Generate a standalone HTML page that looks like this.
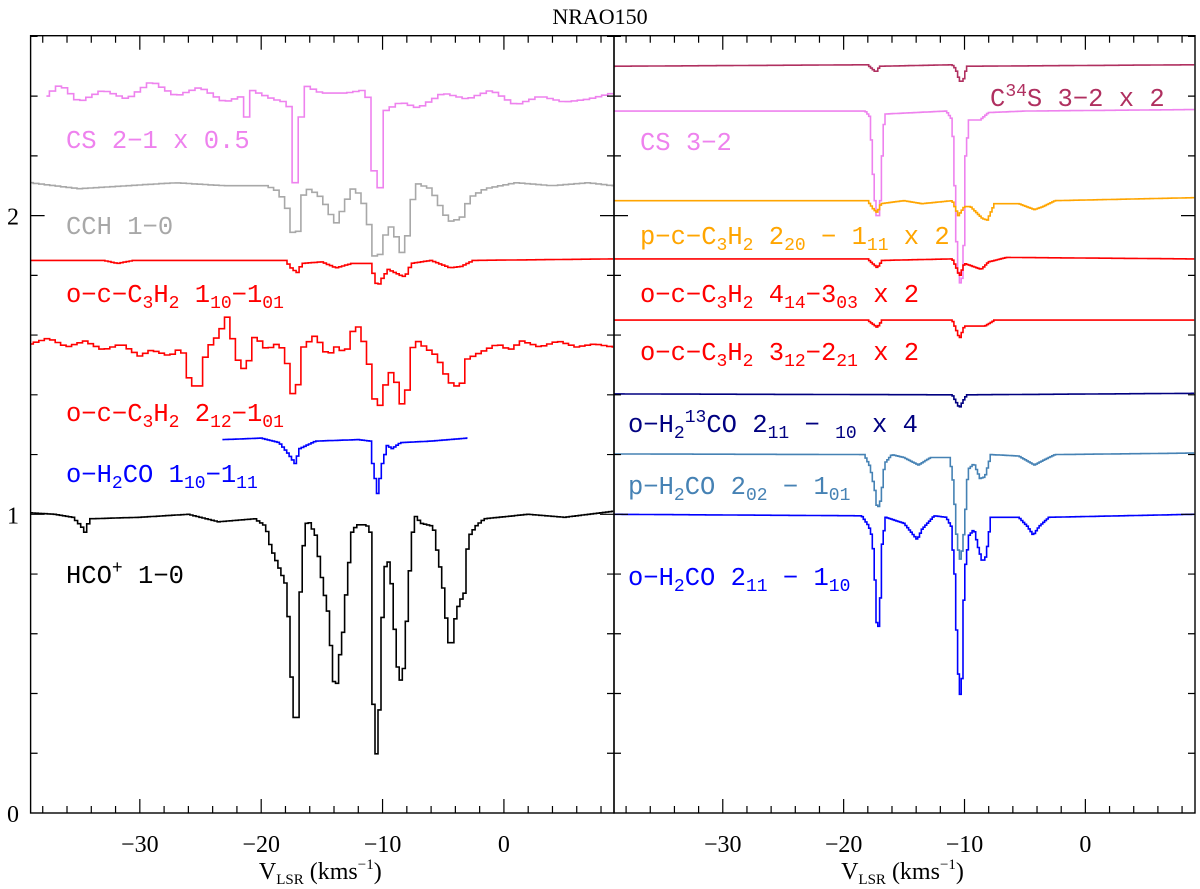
<!DOCTYPE html>
<html><head><meta charset="utf-8"><style>
body{margin:0;background:#fff}
svg{display:block}
</style></head><body>
<svg id="chart" width="1200" height="889" viewBox="0 0 1200 889"></svg>
<script>
// ---- data (velocity km/s, intensity) knots ----
const cs21V=[-37.7,-36.5,-35,-33,-31,-29,-27,-25,-23,-21.5,-21.2,-20.8,-19,-18,-17.6,-17.3,-16.9,-16.6,-15,-13,-11.5,-11,-10.7,-10.4,-10.1,-9.8,-8.5,-7,-5,-3,-1,1,3,5,7,9];
const cs21T=[2.40,2.44,2.38,2.42,2.39,2.45,2.40,2.43,2.38,2.40,2.33,2.42,2.39,2.38,2.36,2.11,2.11,2.44,2.41,2.41,2.42,2.38,2.15,1.98,2.15,2.35,2.38,2.36,2.41,2.39,2.42,2.37,2.40,2.38,2.39,2.41];
const cchV=[-39,-35,-31,-27,-23,-19.5,-18.5,-17.8,-17.3,-17.0,-16.7,-16,-15,-14.2,-13.7,-13.3,-12.5,-11.8,-11.2,-10.8,-10.4,-10.0,-9.5,-9,-8.5,-8.2,-7.8,-7.3,-6,-5.2,-4.5,-3.5,-2.8,-1.5,1,4,7,9];
const cchT=[2.11,2.09,2.10,2.11,2.10,2.10,2.08,2.02,1.925,1.925,2.06,2.09,2.06,2.0,1.97,2.02,2.09,2.07,2.0,1.88,1.84,1.90,1.97,1.95,1.88,1.87,1.97,2.11,2.09,2.03,1.98,1.99,2.06,2.09,2.11,2.10,2.11,2.10];
const c3h2aV=[-39,-33,-31.8,-30.5,-18,-17.4,-17,-16.6,-15,-13.8,-12.5,-11,-10.7,-10.4,-10.0,-9.5,-8.5,-8.1,-7.6,-6,-4.4,-3.5,-2.5,9];
const c3h2aT=[1.85,1.85,1.84,1.85,1.85,1.82,1.81,1.84,1.845,1.825,1.84,1.84,1.80,1.76,1.79,1.82,1.80,1.795,1.84,1.85,1.825,1.83,1.85,1.855];
const c3h2bV=[-39,-37.5,-36,-34.5,-33,-31.5,-30,-29,-27.5,-26.5,-26,-25.5,-25,-24.5,-23.5,-22.8,-22.3,-21.8,-21.2,-20.5,-19.5,-18.8,-18,-17.5,-17.0,-16.5,-15.5,-14.5,-13.8,-13,-12.2,-11.7,-11.2,-10.8,-10.4,-10,-9.4,-8.9,-8.4,-8.0,-7.4,-6.5,-5.5,-4.8,-4.2,-3.5,-3,-2,-0.5,0.5,1.5,3,4.5,6,7.5,9];
const c3h2bT=[1.57,1.59,1.56,1.58,1.55,1.57,1.53,1.55,1.53,1.56,1.46,1.43,1.43,1.55,1.6,1.66,1.58,1.50,1.48,1.6,1.55,1.57,1.55,1.40,1.42,1.56,1.6,1.53,1.56,1.54,1.645,1.6,1.53,1.42,1.33,1.40,1.48,1.45,1.37,1.40,1.59,1.56,1.53,1.47,1.43,1.43,1.52,1.54,1.57,1.55,1.58,1.56,1.58,1.56,1.57,1.56];
const h2coaV=[-23.2,-20,-18.5,-17.7,-17.2,-16.8,-15.5,-12,-11,-10.8,-10.4,-10.0,-9.6,-9.2,-8.5,-6,-3];
const h2coaT=[1.25,1.255,1.24,1.20,1.17,1.22,1.245,1.25,1.245,1.17,1.07,1.17,1.23,1.22,1.24,1.245,1.255];
const hcoV=[-39,-37,-35.5,-34.8,-34.5,-34.1,-30,-26,-24.5,-23.5,-22,-20.5,-19.6,-19.2,-18.0,-17.6,-17.4,-17.0,-16.9,-16.6,-16.4,-16.1,-15.5,-14.9,-14.4,-14.3,-14.0,-13.8,-13.5,-13.2,-13.0,-12.7,-12.5,-12.1,-11.3,-11.0,-10.9,-10.7,-10.4,-10.1,-9.9,-9.6,-9.3,-9.1,-8.8,-8.6,-8.3,-8.1,-7.8,-7.5,-7.3,-6.8,-5.8,-5.5,-5.1,-4.8,-4.6,-4.2,-4.0,-3.7,-3.2,-3.1,-2.8,-2.3,-1.6,2,5,7,9];
const hcoT=[1.005,1.0,0.99,0.96,0.94,0.985,0.99,1.0,0.985,0.975,0.98,0.985,0.96,0.89,0.77,0.59,0.32,0.32,0.65,0.83,0.96,0.98,0.93,0.76,0.655,0.585,0.44,0.415,0.53,0.62,0.73,0.86,0.94,0.965,0.965,0.94,0.69,0.255,0.17,0.52,0.79,0.86,0.80,0.67,0.505,0.44,0.455,0.57,0.785,0.94,0.995,0.97,0.96,0.88,0.79,0.68,0.57,0.57,0.65,0.70,0.74,0.86,0.93,0.96,0.985,1.0,0.99,1.0,1.01];
const c34sV=[-39,-18,-17.6,-17.3,-17,-11,-10.7,-10.4,-10.1,-9.8,9];
const c34sT=[2.5,2.505,2.49,2.48,2.5,2.505,2.49,2.45,2.45,2.5,2.505];
const cs32V=[-39,-18.2,-17.8,-17.5,-17.3,-17.0,-16.8,-16.6,-11.5,-11.0,-10.8,-10.6,-10.4,-10.1,-9.9,-9.6,-8.7,-8,-5,9];
const cs32T=[2.35,2.35,2.33,2.1,2.0,2.0,2.2,2.34,2.35,2.32,2.1,1.85,1.77,1.80,2.2,2.32,2.32,2.345,2.35,2.355];
const pc3h2V=[-39,-18,-17.5,-17.2,-16.9,-15,-13.5,-11,-10.5,-10.0,-9.5,-8.5,-8.1,-7.5,-5.5,-4.2,-3.5,-2.5,9];
const pc3h2T=[2.05,2.05,2.02,2.01,2.04,2.05,2.04,2.05,2.0,2.03,2.03,1.99,1.985,2.04,2.04,2.02,2.03,2.05,2.06];
const c414V=[-39,-18,-17.2,-16.8,-11,-10.6,-10.4,-10.0,-8.6,-8,-6.5,9];
const c414T=[1.855,1.855,1.825,1.85,1.855,1.82,1.795,1.84,1.82,1.845,1.86,1.855];
const c312V=[-39,-18,-17.2,-16.8,-11,-10.6,-10.4,-10.0,-8.3,-7.5,9];
const c312T=[1.65,1.65,1.625,1.65,1.65,1.61,1.587,1.63,1.63,1.65,1.65];
const h213coV=[-39,-11,-10.6,-10.4,-10.1,-9.8,9];
const h213coT=[1.403,1.40,1.37,1.356,1.38,1.4,1.405];
const ph2coV=[-39,-18.3,-17.8,-17.4,-17.2,-16.9,-16.6,-16,-15,-13.8,-12.8,-11.2,-10.9,-10.6,-10.3,-10.0,-9.7,-9.2,-8.7,-8.3,-7.8,-5.5,-4.2,-3.5,-2.5,9];
const ph2coT=[1.202,1.20,1.16,1.08,1.014,1.05,1.17,1.2,1.19,1.165,1.19,1.19,1.1,0.9,0.84,0.95,1.15,1.17,1.12,1.125,1.2,1.195,1.165,1.18,1.2,1.205];
const oh2coV=[-39,-18.5,-17.9,-17.6,-17.4,-17.2,-17.0,-16.8,-16.5,-15,-14.2,-13.9,-13.5,-12.5,-11.5,-11.1,-10.8,-10.6,-10.4,-10.2,-10.0,-9.6,-9.2,-8.8,-8.5,-8.2,-7.8,-5.5,-4.8,-4.3,-3.8,-3,9];
const oh2coT=[1.0,0.995,0.96,0.92,0.78,0.59,0.66,0.9,0.99,0.97,0.93,0.915,0.95,0.995,0.99,0.96,0.80,0.55,0.38,0.45,0.8,0.93,0.95,0.88,0.84,0.86,0.99,0.99,0.96,0.93,0.96,0.99,1.0];
const xTicks=[-30,-20,-10,0];
const yTicks=[0,1,2];

// ---- geometry ----
const NS='http://www.w3.org/2000/svg';
const svg=document.getElementById('chart');
const VMIN=-39.0,VMAX=9.07;
const panels=[{x0:30.6,x1:614},{x0:614,x1:1195}];
const Y0=813,Y1=35.7,TMAX=(813-35.7)/298.7;
function xs(p,v){const P=panels[p];return P.x0+(v-VMIN)/(VMAX-VMIN)*(P.x1-P.x0);}
function ys(t){return Y0-t/TMAX*(Y0-Y1);}
function el(tag,attrs,parent){const e=document.createElementNS(NS,tag);for(const k in attrs)e.setAttribute(k,attrs[k]);(parent||svg).appendChild(e);return e;}
function interp(V,T,v){if(v<=V[0])return T[0];for(let i=1;i<V.length;i++){if(v<=V[i]){const f=(v-V[i-1])/(V[i]-V[i-1]);return T[i-1]+f*(T[i]-T[i-1]);}}return T[T.length-1];}

const defs=el('defs',{});
panels.forEach((P,i)=>{const c=el('clipPath',{id:'clip'+i},defs);el('rect',{x:P.x0,y:Y1,width:P.x1-P.x0,height:Y0-Y1},c);});

function spectrum(name,p,V,T,dv,color){
  const g=el('g',{'clip-path':'url(#clip'+p+')'});
  
  
  let d='';const vs=V[0],ve=V[V.length-1];
  for(let v=vs;v<ve+dv/2;v+=dv){
    const t=interp(V,T,v);const a=xs(p,Math.max(vs,v-dv/2)),b=xs(p,Math.min(ve,v+dv/2)),y=ys(t);
    d+=(d?'L':'M')+a.toFixed(1)+','+y.toFixed(1)+'L'+b.toFixed(1)+','+y.toFixed(1);
  }
  const path=el('path',{d:d,fill:'none',stroke:color,'stroke-width':1.6},g);
  
  
}
spectrum('cs-2-1-spectrum',0,cs21V,cs21T,0.5,'#ee82ee');
spectrum('cch-1-0-spectrum',0,cchV,cchT,0.45,'#a8a8a8');
spectrum('o-c-c3h2-110-101-spectrum',0,c3h2aV,c3h2aT,0.25,'#ff0000');
spectrum('o-c-c3h2-212-101-spectrum',0,c3h2bV,c3h2bT,0.45,'#ff0000');
spectrum('o-h2co-110-111-spectrum',0,h2coaV,h2coaT,0.2,'#0000ff');
spectrum('hco-plus-1-0-spectrum',0,hcoV,hcoT,0.25,'#000000');
spectrum('c34s-3-2-spectrum',1,c34sV,c34sT,0.15,'#b03060');
spectrum('cs-3-2-spectrum',1,cs32V,cs32T,0.15,'#ee82ee');
spectrum('p-c-c3h2-220-111-spectrum',1,pc3h2V,pc3h2T,0.15,'#ffa500');
spectrum('o-c-c3h2-414-303-spectrum',1,c414V,c414T,0.15,'#ff0000');
spectrum('o-c-c3h2-312-221-spectrum',1,c312V,c312T,0.15,'#ff0000');
spectrum('o-h2-13co-spectrum',1,h213coV,h213coT,0.15,'#000080');
spectrum('p-h2co-202-101-spectrum',1,ph2coV,ph2coT,0.15,'#4682b4');
spectrum('o-h2co-211-110-spectrum',1,oh2coV,oh2coT,0.15,'#0000ff');

const SERIF='font-family:"Liberation Serif",serif';
panels.forEach((P,p)=>{
  const f=el('rect',{x:P.x0,y:Y1,width:P.x1-P.x0,height:Y0-Y1,fill:'none',stroke:'#000','stroke-width':1.4});
  
  
  let d='';
  for(let v=-38;v<=8;v+=2){const x=xs(p,v);const L=(v%10===0)?14:7;d+='M'+x+','+Y0+'v'+(-L)+'M'+x+','+Y1+'v'+L;}
  for(let k=1;k<=13;k++){const t=k*0.2;if(t>TMAX)break;const y=ys(t);const L=(k%5===0)?14:7;d+='M'+P.x0+','+y+'h'+L+'M'+P.x1+','+y+'h'+(-L);}
  const tk=el('path',{d:d,stroke:'#000','stroke-width':1.2,fill:'none'});
  
  
  xTicks.forEach(v=>{const t=el('text',{x:xs(p,v),y:852,'font-size':24,'text-anchor':'middle',style:SERIF});t.textContent=(v<0?'\u2212':'')+Math.abs(v);
    
    });
  const xt=el('text',{x:(P.x0+P.x1)/2-2,y:879,'font-size':24,'text-anchor':'middle',style:SERIF});
  xt.innerHTML='V<tspan font-size="15" baseline-shift="-5">LSR</tspan> (kms<tspan font-size="15" baseline-shift="10">\u22121</tspan>)';
  
  
});
yTicks.forEach(t=>{const e=el('text',{x:13,y:ys(t)+9,'font-size':24,'text-anchor':'middle',style:SERIF});e.textContent=t;
  
  });
const title=el('text',{x:600,y:24,'font-size':22,'text-anchor':'middle',style:SERIF});title.textContent='NRAO150';



function label(name,x,y,color,html){const t=el('text',{x:x,y:y,fill:color,'font-size':25.5,style:'font-family:"Liberation Mono",monospace'});t.innerHTML=html;
  
  }
const sub=s=>'<tspan font-size="18" baseline-shift="-6">'+s+'</tspan>';
const sup=s=>'<tspan font-size="18" baseline-shift="10">'+s+'</tspan>';
label('label-cs-2-1',66,148,'#ee82ee','CS 2\u22121 x 0.5');
label('label-cch-1-0',66,234,'#a8a8a8','CCH 1\u22120');
label('label-o-c-c3h2-110',66,302,'#ff0000','o\u2212c\u2212C'+sub('3')+'H'+sub('2')+' 1'+sub('10')+'\u22121'+sub('01'));
label('label-o-c-c3h2-212',66,421,'#ff0000','o\u2212c\u2212C'+sub('3')+'H'+sub('2')+' 2'+sub('12')+'\u22121'+sub('01'));
label('label-o-h2co-110',66,482,'#0000ff','o\u2212H'+sub('2')+'CO 1'+sub('10')+'\u22121'+sub('11'));
label('label-hco-plus',66,583,'#000000','HCO'+sup('+')+' 1\u22120');
label('label-c34s',990,106,'#b03060','C'+sup('34')+'S 3\u22122 x 2');
label('label-cs-3-2',640,150,'#ee82ee','CS 3\u22122');
label('label-p-c-c3h2',640,244,'#ffa500','p\u2212c\u2212C'+sub('3')+'H'+sub('2')+' 2'+sub('20')+' \u2212 1'+sub('11')+' x 2');
label('label-o-c-c3h2-414',640,302,'#ff0000','o\u2212c\u2212C'+sub('3')+'H'+sub('2')+' 4'+sub('14')+'\u22123'+sub('03')+' x 2');
label('label-o-c-c3h2-312',640,360,'#ff0000','o\u2212c\u2212C'+sub('3')+'H'+sub('2')+' 3'+sub('12')+'\u22122'+sub('21')+' x 2');
label('label-o-h2-13co',628,432,'#000080','o\u2212H'+sub('2')+sup('13')+'CO  2'+sub('11')+' \u2212 '+sub('10')+' x 4');
label('label-p-h2co',628,494,'#4682b4','p\u2212H'+sub('2')+'CO 2'+sub('02')+' \u2212 1'+sub('01'));
label('label-o-h2co-211',628,585,'#0000ff','o\u2212H'+sub('2')+'CO 2'+sub('11')+' \u2212 1'+sub('10'));
</script>
</body></html>
